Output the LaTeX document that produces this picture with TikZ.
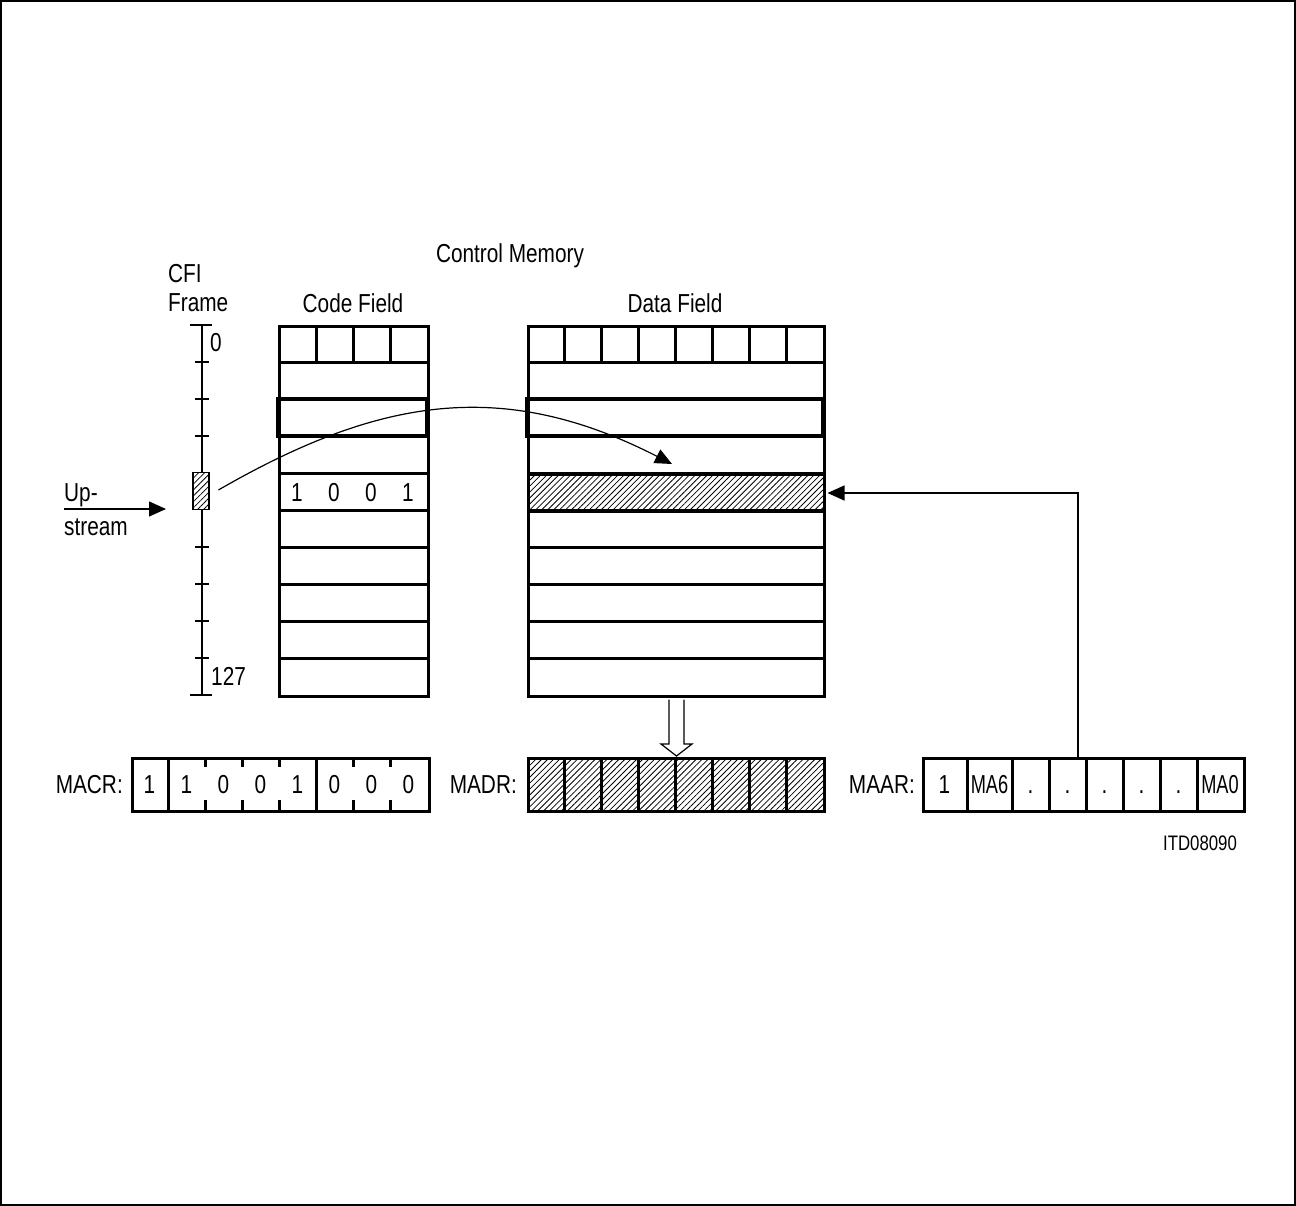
\documentclass[tikz,border=0pt]{standalone}
\usepackage{fontspec}
\setmainfont{Liberation Sans}
\usepackage{graphicx}
\usetikzlibrary{arrows.meta,patterns.meta,calc}
\newcommand\cmtext[1]{\scalebox{0.8}[1]{\fontsize{26}{26}\selectfont #1}}
\newcommand\cmnarrow[1]{\scalebox{0.7}[1]{\fontsize{26}{26}\selectfont #1}}
\begin{document}
\begin{tikzpicture}[x=1pt,y=-1pt,
  thk/.style={line width=3pt},
  thn/.style={line width=1.2pt},
  lab/.style={inner sep=0pt,anchor=base},
  labw/.style={inner sep=0pt,anchor=base west},
  labe/.style={inner sep=0pt,anchor=base east},
  hatch/.style={pattern={Lines[angle=45,distance=4.2pt,line width=0.8pt]}},
  tipd/.style={-{Triangle[length=17pt,width=15pt]}},
  box/.style={draw,thk,inner sep=0pt,anchor=north west},
]
\useasboundingbox (0,0) rectangle (1296,1206);
\draw[line width=1.6pt] (1,1) rectangle (1295,1205);

% titles
\node[lab] (cm) at (510,263) {\cmtext{Control Memory}};
\node[lab] (cft) at (353,313) {\cmtext{Code Field}};
\node[lab] (dft) at (675,313) {\cmtext{Data Field}};
\node[labw] (cfia) at (168,283) {\cmtext{CFI}};
\node[labw] (cfib) at (168,312) {\cmtext{Frame}};

% ruler
\draw[thn] (202,325) -- (202,695);
\draw[thn] (190,325) -- (212,325);
\draw[thn] (190,695) -- (212,695);
\foreach \y in {362,399,436,547,584,621,658} \draw[thn] (195,\y) -- (209,\y);
\node[labw] (rzero) at (210,352) {\cmtext{0}};
\node[labw] (rlast) at (211,685) {\cmtext{127}};
\node[draw,thn,preaction={fill=white},hatch,inner sep=0pt,minimum width=16pt,minimum height=37pt] (cfi) at (201,491) {};

% upstream
\node[labw] (upa) at (64,501) {\cmtext{Up-}};
\node[labw] (upb) at (64,535) {\cmtext{stream}};
\coordinate (usa) at (64,509);
\coordinate (usb) at (166,509);
\draw[thn,tipd] (usa) -- (usb);

% code field
\node[box,minimum width=149pt,minimum height=370pt] (cf) at (278,325) {};
\foreach \i in {1,...,9} \draw[thk] (278,325+37*\i) -- (427,325+37*\i);
\foreach \x in {316,353,390} \draw[thk] (\x,325) -- (\x,362);
\draw[line width=3.3pt] (278,399) rectangle (427,436);
\foreach \x/\v in {297/1,334/0,371/0,408/1} \node[lab] at (\x,501) {\cmtext{\v}};

% data field
\node[box,minimum width=296pt,minimum height=370pt] (df) at (527,325) {};
\node[box,hatch,minimum width=296pt,minimum height=37pt] (hrow) at (527,473) {};
\foreach \i in {1,...,9} \draw[thk] (527,325+37*\i) -- (823,325+37*\i);
\foreach \i in {1,...,7} \draw[thk] (527+37*\i,325) -- (527+37*\i,362);
\draw[line width=3.3pt] (527,399) rectangle (823,436);

% curved arrow
\coordinate (cend) at (672,464);
\draw[thn,tipd] ($(cfi.east)+(9,-1)$) .. controls (378,398) and (502,377) .. (cend);

% MACR
\node[labe] (macrl) at (123,793) {\cmtext{MACR:}};
\node[box,minimum width=297pt,minimum height=53pt] (macr) at (131,757) {};
\foreach \x in {168,316} \draw[thk] (\x,757) -- (\x,810);
\foreach \x in {205,242,279,353,390} {\draw[thk] (\x,757) -- (\x,767); \draw[thk] (\x,800) -- (\x,810);}
\foreach \x/\v in {149.5/1,186.5/1,223.5/0,260.5/0,297.5/1,334.5/0,371.5/0,408.5/0} \node[lab] at (\x,793) {\cmtext{\v}};

% MADR
\node[labe] (madrl) at (517,793) {\cmtext{MADR:}};
\node[box,hatch,minimum width=296pt,minimum height=53pt] (madr) at (527,757) {};
\foreach \i in {1,...,7} \draw[thk] (527+37*\i,757) -- (527+37*\i,810);

% hollow arrow
\draw[thn,fill=white] ($(df.south)+(-7.5,1.5)$) -- ($(df.south)+(-7.5,46)$) -- ($(df.south)+(-15.5,46)$) -- ($(madr.north)+(0,-1)$) -- ($(df.south)+(15.5,46)$) -- ($(df.south)+(7.5,46)$) -- ($(df.south)+(7.5,1.5)$);

% MAAR
\node[labe] (maarl) at (915,793) {\cmtext{MAAR:}};
\node[box,minimum width=321pt,minimum height=53pt] (maar) at (922,757) {};
\foreach \x in {967,1012,1049,1086,1123,1160,1197} \draw[thk] (\x,757) -- (\x,810);
\node[lab] at (944.5,793) {\cmtext{1}};
\node[lab] at (989.5,793) {\cmnarrow{MA6}};
\foreach \x in {1030.5,1067.5,1104.5,1141.5,1178.5} \node[lab] at (\x,793) {\cmtext{.}};
\node[lab] at (1220,793) {\cmnarrow{MA0}};
\coordinate (maarc) at (1078,757);
\draw[thn,tipd] (maarc) |- ($(hrow.east)+(1.5,0)$);

\node[lab] (itd) at (1200,850) {\scalebox{0.8}[1]{\fontsize{21}{21}\selectfont ITD08090}};
\end{tikzpicture}
\end{document}
